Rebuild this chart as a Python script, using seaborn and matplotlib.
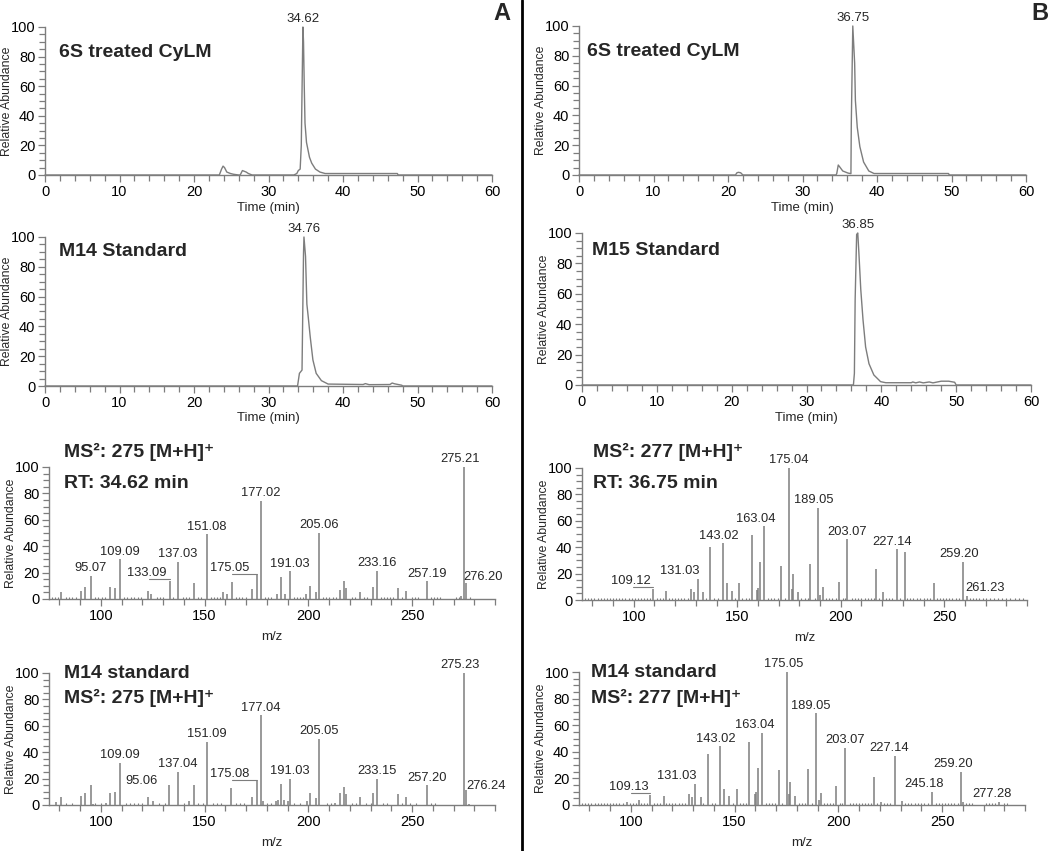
import matplotlib
matplotlib.use("Agg")
import matplotlib.pyplot as plt
import seaborn as sns
import pandas as pd
from matplotlib.ticker import MultipleLocator
from matplotlib.lines import Line2D

# ------------------------------------------------------------------ data
# Chromatograms: time (min) and relative abundance (%)
A_TREATED_T = [0, 23.4, 23.7, 23.9, 24.1, 24.4, 24.9, 25.3, 26.0, 26.2, 26.5, 27.0, 27.3, 27.8,
               33.4, 33.8, 34.0, 34.25, 34.4, 34.62, 34.7, 34.8, 34.9, 35.1, 35.5, 35.8, 36.3,
               36.9, 37.6, 47.3, 47.4, 60]
A_TREATED_Y = [0, 0, 4, 6, 5, 2, 1, 0.5, 0, 0, 3, 2, 1, 0,
               0, 1, 3, 4, 20, 100, 90, 60, 35, 22, 12, 8, 4,
               2, 1, 1, 0, 0]

A_STD_T = [0, 33.9, 34.15, 34.5, 34.7, 34.76, 34.97, 35.15, 35.33, 35.6, 35.96, 36.4, 37.1,
           38.0, 42.7, 43.0, 43.5, 46.3, 46.6, 46.9, 47.9, 48.0, 60]
A_STD_Y = [0, 0, 8.5, 10.7, 89, 100, 87, 55, 46.5, 33, 17.5, 8.5, 3.6,
           1.3, 1, 1.6, 0.9, 1, 2, 1.5, 0.5, 0, 0]

B_TREATED_T = [0, 21.0, 21.2, 21.4, 21.7, 22.0, 34.5, 34.6, 34.8, 35.0, 35.4, 36.1, 36.5,
               36.55, 36.75, 37.0, 37.1, 37.35, 37.7, 38.2, 38.9, 39.6, 49.6, 49.7, 60]
B_TREATED_Y = [0, 0, 1.5, 1.8, 1.5, 0, 0, 1, 6.7, 5.4, 2.7, 1.3, 0.9,
               34.5, 100, 75, 50, 32, 19, 8.7, 2.7, 1, 1, 0, 0]

B_STD_T = [0, 36.27, 36.4, 36.5, 36.7, 36.85, 37.0, 37.25, 37.55, 37.9, 38.35, 39.0, 39.9,
           40.6, 44.0, 44.2, 44.6, 45.1, 45.6, 46.4, 46.9, 48.0, 49.0, 49.8, 50.0, 60]
B_STD_Y = [0, 0, 7.7, 56, 99, 100, 87, 63, 43, 25, 14, 6.6, 2.2,
           1.5, 1.5, 2, 1.4, 2, 1.4, 2, 1.4, 2.5, 2.5, 1.8, 0, 0]

CHROM_PEAK_LABELS = ["34.62", "34.76", "36.75", "36.85"]
CHROM_TITLES = ["6S treated CyLM", "M14 Standard", "6S treated CyLM", "M15 Standard"]

# MS2 spectra: m/z and relative abundance (%)
A3_MZ = [80.9, 90.4, 92.3, 95.07, 104.4, 106.9, 109.09, 122.7, 124.3, 133.09,
         137.03, 144.9, 151.08, 159.0, 160.6, 163.0, 172.9, 175.05, 177.02, 184.8,
         187.0, 189.0, 191.03, 199.0, 201.0, 203.5, 205.06, 215.2, 217.1, 218.4,
         224.8, 231.1, 233.16, 243.1, 247.3, 257.19, 273.6, 275.21, 276.20]
A3_INT = [5.5, 6, 9, 17.5, 9, 8, 30, 6, 4, 14,
          28, 12, 49, 5, 4, 13, 7.5, 18, 74.5, 4,
          17, 4, 21, 4, 10, 5, 50, 7, 14, 8,
          5, 9, 21.5, 8, 6, 13.5, 2, 100, 12]
A3_LABELS = ["95.07", "109.09", "133.09", "137.03", "151.08", "175.05", "177.02",
             "191.03", "205.06", "233.16", "257.19", "275.21", "276.20"]
A3_NOISE = [76.5, 78, 79.5, 83, 84.5, 86, 88, 97, 98.5, 100.5, 102, 111, 112.5, 114.5, 116,
            118, 119.5, 127, 128.5, 130, 135, 139.5, 141, 142.5, 147, 148.5, 153, 154.5, 156,
            157.5, 165, 166.5, 168, 170, 179, 180.5, 182, 193, 194.5, 196, 197.5, 207, 208.5,
            210, 212, 213.5, 221, 222.5, 227, 228.5, 235, 236.5, 238, 239.5, 241, 245, 250,
            251.5, 253, 259, 260.5, 262, 263.5, 271, 272.5, 278]

A4_MZ = [78.3, 80.9, 90.4, 92.3, 95.06, 96.4, 102.5, 104.4, 106.9, 109.09,
         122.7, 125.1, 133.0, 137.04, 142.5, 145.0, 151.09, 162.5, 172.7, 175.08,
         177.04, 178.0, 184.2, 185.6, 187.0, 188.5, 190.0, 191.03, 199.3, 200.6,
         203.5, 205.05, 212.9, 215.2, 217.1, 218.4, 224.8, 231.1, 233.15, 243.1,
         247.3, 257.20, 275.23, 276.24, 277.6]
A4_INT = [2, 6, 7, 9, 15, 1, 1.5, 9, 10, 32,
          6, 3, 15, 25, 3, 15, 48, 13, 6, 18,
          68, 3, 3, 4, 16, 4, 3, 20, 3, 9,
          5, 50, 1.5, 9, 14, 8, 6, 9, 20, 8,
          6, 15, 100, 11, 1]
A4_LABELS = ["95.06", "109.09", "137.04", "151.09", "175.08", "177.04", "191.03",
             "205.05", "233.15", "257.20", "275.23", "276.24"]
A4_NOISE = [83, 86, 97, 100, 112, 114, 116, 118, 120, 128, 131, 140, 147, 149, 154, 156,
            158, 165, 167, 169, 180, 182, 193, 196, 209, 211, 221, 223, 228, 230, 236, 238,
            245, 249, 252, 259, 261]

B3_MZ = [109.12, 115.4, 127.7, 129.2, 131.03, 133.7, 137.0, 143.02, 145.0, 147.5,
         150.8, 157.0, 159.5, 160.1, 161.2, 163.04, 171.2, 175.04, 176.3, 176.9,
         179.4, 185.2, 189.05, 190.2, 191.4, 199.0, 203.07, 217.0, 220.6, 227.14,
         230.9, 245.0, 259.20, 261.23]
B3_INT = [8, 7, 8, 6, 15.7, 6, 40.5, 43, 13, 7,
          12.7, 49, 7.6, 9, 29, 55.7, 26, 100, 8, 20,
          6, 27, 70, 4, 10, 14, 46, 23.5, 6, 38.5,
          36.7, 13, 29, 3]
B3_LABELS = ["109.12", "131.03", "143.02", "163.04", "175.04", "189.05", "203.07",
             "227.14", "259.20", "261.23"]
B3_NOISE = [76.5, 78, 79.5, 81, 82.5, 84, 85.5, 87, 88.5, 90, 91.5, 93, 94.5, 96, 97.5, 99,
            100.5, 102, 103.5, 105, 106.5, 108, 111, 112.5, 114, 117, 118.5, 120, 121.5, 123,
            124.5, 126, 135, 139, 140.5, 149, 152.5, 154, 155.5, 165, 166.5, 168, 169.5, 173,
            181, 182.5, 184, 187.5, 193, 194.5, 196, 197.5, 201, 202, 205.5, 207, 208.5, 210,
            211.5, 213, 214.5, 216, 218.5, 222, 223.5, 225, 228.5, 232, 233.5, 235, 237,
            238.5, 240, 241.5, 243, 246.5, 248, 249.5, 251, 252.5, 254, 255.5, 257, 262.5,
            264, 265.5, 267, 268.5, 270, 272, 274, 276, 278, 280, 282, 284, 286, 288]

B4_MZ = [97.9, 103.8, 109.13, 115.8, 128.0, 129.3, 131.03, 133.9, 137.0, 143.02,
         145.1, 147.5, 151.0, 157.0, 159.7, 160.3, 161.3, 163.04, 171.4, 175.05,
         176.2, 176.8, 179.2, 185.2, 189.05, 190.5, 191.5, 199.0, 203.07, 217.0,
         220.6, 227.14, 230.7, 245.18, 259.20, 260.3, 277.28]
B4_INT = [2, 4, 7.5, 7, 8, 6, 16, 6, 38, 44,
          12, 7, 12, 47, 8, 10, 28, 54.5, 26, 100,
          8, 17.5, 7, 27, 69, 4, 9, 14, 43, 21,
          2, 37, 3, 10, 25, 2, 2]
B4_LABELS = ["109.13", "131.03", "143.02", "163.04", "175.05", "189.05", "203.07",
             "227.14", "245.18", "259.20", "277.28"]
B4_NOISE = [76.5, 78, 79.5, 81, 82.5, 84, 85.5, 87, 88.5, 90, 91.5, 93, 94.5, 96, 99.5,
            101, 102.5, 105, 106.5, 108, 111, 112.5, 114, 117, 118.5, 120, 121.5, 123,
            124.5, 126, 135, 139, 140.5, 149, 152.5, 154, 155.5, 165, 166.5, 168, 169.5,
            173, 181, 182.5, 184, 187.5, 193, 194.5, 196, 197.5, 201, 202, 205.5, 207,
            208.5, 210, 211.5, 213, 214.5, 216, 218.5, 222, 223.5, 225, 232, 233.5, 235,
            237, 238.5, 240, 241.5, 243, 247, 248.5, 250, 251.5, 253, 254.5, 256, 257.5,
            261.5, 263, 264.5, 271, 272.5, 274, 275.5, 280, 281.5]

SPEC_TITLES = [("MS\u00b2: 275 [M+H]\u207a", "RT: 34.62 min"),
               ("M14 standard", "MS\u00b2: 275 [M+H]\u207a"),
               ("MS\u00b2: 277 [M+H]\u207a", "RT: 36.75 min"),
               ("M14 standard", "MS\u00b2: 277 [M+H]\u207a")]

# ------------------------------------------------------------------ style / layout
sns.set_theme(style="ticks")
plt.rcParams["font.family"] = ["Liberation Sans", "DejaVu Sans"]
GRAY = "#7d7d7d"
W, H = 1050, 851

fig = plt.figure(figsize=(W / 100, H / 100), dpi=100)


def px_axes(x0, x1, ytop, ybot):
    return fig.add_axes([x0 / W, 1 - ybot / H, (x1 - x0) / W, (ybot - ytop) / H])


def style_axes(ax, xmaj, xmin):
    sns.despine(ax=ax)
    for s in ("left", "bottom"):
        ax.spines[s].set_color(GRAY)
        ax.spines[s].set_linewidth(1.0)
    ax.xaxis.set_major_locator(MultipleLocator(xmaj))
    ax.xaxis.set_minor_locator(MultipleLocator(xmin))
    ax.yaxis.set_major_locator(MultipleLocator(20))
    ax.yaxis.set_minor_locator(MultipleLocator(5))
    ax.tick_params(which="both", direction="out", color=GRAY, width=0.9,
                   labelsize=10.5, labelcolor="black", pad=2)
    ax.tick_params(which="major", length=5)
    ax.tick_params(which="minor", length=4)
    ax.set_ylabel("Relative Abundance", fontsize=8.8)
    ax.yaxis.set_label_coords(-0.072, 0.5)


def draw_chrom(ax, t, y, label, title, tx, ty):
    df = pd.DataFrame({"t": t, "y": y})
    sns.lineplot(data=df, x="t", y="y", ax=ax, color=GRAY, lw=1.0,
                 estimator=None, sort=False)
    ax.lines[-1].set_clip_on(False)
    ax.set_xlim(0, 60)
    ax.set_ylim(0, 100)
    style_axes(ax, 10, 2)
    ax.set_xlabel("Time (min)", fontsize=9.5, labelpad=2)
    ax.annotate(label, xy=(float(label), 100), xytext=(0, 1.5), textcoords="offset points",
                ha="center", va="bottom", fontsize=9.5)
    ax.text(tx, ty, title, transform=ax.transAxes, ha="left", va="baseline",
            fontsize=14, fontweight="bold")


def draw_spec(ax, mz, inten, noise, noise_lvl, labels, layout, titles, tx, ty1, ty2):
    ax.vlines(noise, 0, noise_lvl, color=GRAY, lw=0.8)
    ax.vlines(mz, 0, inten, color=GRAY, lw=1.1, clip_on=False)
    ax.set_xlim(75, 290)
    ax.set_ylim(0, 100)
    style_axes(ax, 50, 10)
    ax.set_xlabel("m/z", fontsize=9.5, labelpad=6)
    lookup = dict(zip(mz, inten))
    for lab in labels:
        m = float(lab)
        h = lookup[m]
        dx, dy, leader = layout.get(lab, (0, 1.2, False))
        ax.text(m + dx, h + dy, lab, ha="center", va="bottom", fontsize=9.3)
        if leader:
            ax.plot([m + dx + 1, m], [h + dy, h + dy], color=GRAY, lw=0.8)
    ax.text(tx, ty1, titles[0], transform=ax.transAxes, ha="left", va="baseline",
            fontsize=14, fontweight="bold")
    ax.text(tx, ty2, titles[1], transform=ax.transAxes, ha="left", va="baseline",
            fontsize=14, fontweight="bold")


# chromatograms
ax = px_axes(45, 492, 27, 175)
draw_chrom(ax, A_TREATED_T, A_TREATED_Y, CHROM_PEAK_LABELS[0], CHROM_TITLES[0], 0.032, 0.80)
ax = px_axes(45, 492, 237, 386)
draw_chrom(ax, A_STD_T, A_STD_Y, CHROM_PEAK_LABELS[1], CHROM_TITLES[1], 0.032, 0.872)
ax = px_axes(579, 1026, 26, 175)
draw_chrom(ax, B_TREATED_T, B_TREATED_Y, CHROM_PEAK_LABELS[2], CHROM_TITLES[2], 0.018, 0.80)
ax = px_axes(582, 1031, 233, 385)
draw_chrom(ax, B_STD_T, B_STD_Y, CHROM_PEAK_LABELS[3], CHROM_TITLES[3], 0.022, 0.855)

# spectra
A3_LAYOUT = {"133.09": (-11, 1.2, True), "175.05": (-13, 1.2, True),
             "276.20": (8, 0.5, False), "275.21": (-2, 1.2, False)}
A4_LAYOUT = {"95.06": (24.5, -1, False), "175.08": (-13, 1.2, True),
             "276.24": (9.5, -1, False), "275.23": (-2, 1.2, False)}
B3_LAYOUT = {"109.12": (-10.5, 2, True), "131.03": (-9, 1.5, False),
             "143.02": (-2, 1.2, False), "163.04": (-4, 1.2, False),
             "189.05": (-2, 1.2, False), "227.14": (-2.5, 1.2, False),
             "259.20": (-2, 1.2, False), "261.23": (8.3, 1.5, False)}
B4_LAYOUT = {"109.13": (-10, 1.5, True), "131.03": (-8.8, 1.2, False),
             "143.02": (-2, 1.2, False), "163.04": (-3.5, 1.2, False),
             "175.05": (-1.5, 1.2, False), "189.05": (-2.3, 1.2, False),
             "227.14": (-2.8, 1.2, False), "245.18": (-4, 1.2, False),
             "259.20": (-4, 1.2, False), "277.28": (-3.4, 1.5, False)}

ax = px_axes(49, 495, 467, 599)
draw_spec(ax, A3_MZ, A3_INT, A3_NOISE, 1.6, A3_LABELS, A3_LAYOUT, SPEC_TITLES[0], 0.034, 1.073, 0.839)
ax = px_axes(49, 495, 673, 805)
draw_spec(ax, A4_MZ, A4_INT, A4_NOISE, 1.2, A4_LABELS, A4_LAYOUT, SPEC_TITLES[1], 0.034, 0.964, 0.77)
ax = px_axes(582, 1027, 468, 600)
draw_spec(ax, B3_MZ, B3_INT, B3_NOISE, 1.5, B3_LABELS, B3_LAYOUT, SPEC_TITLES[2], 0.025, 1.086, 0.846)
ax = px_axes(579, 1025, 672, 805)
draw_spec(ax, B4_MZ, B4_INT, B4_NOISE, 1.5, B4_LABELS, B4_LAYOUT, SPEC_TITLES[3], 0.028, 0.965, 0.77)

# panel letters and divider
fig.text(502 / W, 1 - 14 / H, "A", ha="center", va="center", fontsize=17, fontweight="bold")
fig.text(1040 / W, 1 - 14 / H, "B", ha="center", va="center", fontsize=17, fontweight="bold")
fig.add_artist(Line2D([522 / W, 522 / W], [0, 1], transform=fig.transFigure,
                      color="black", lw=2))

fig.savefig("out.png", dpi=100)
